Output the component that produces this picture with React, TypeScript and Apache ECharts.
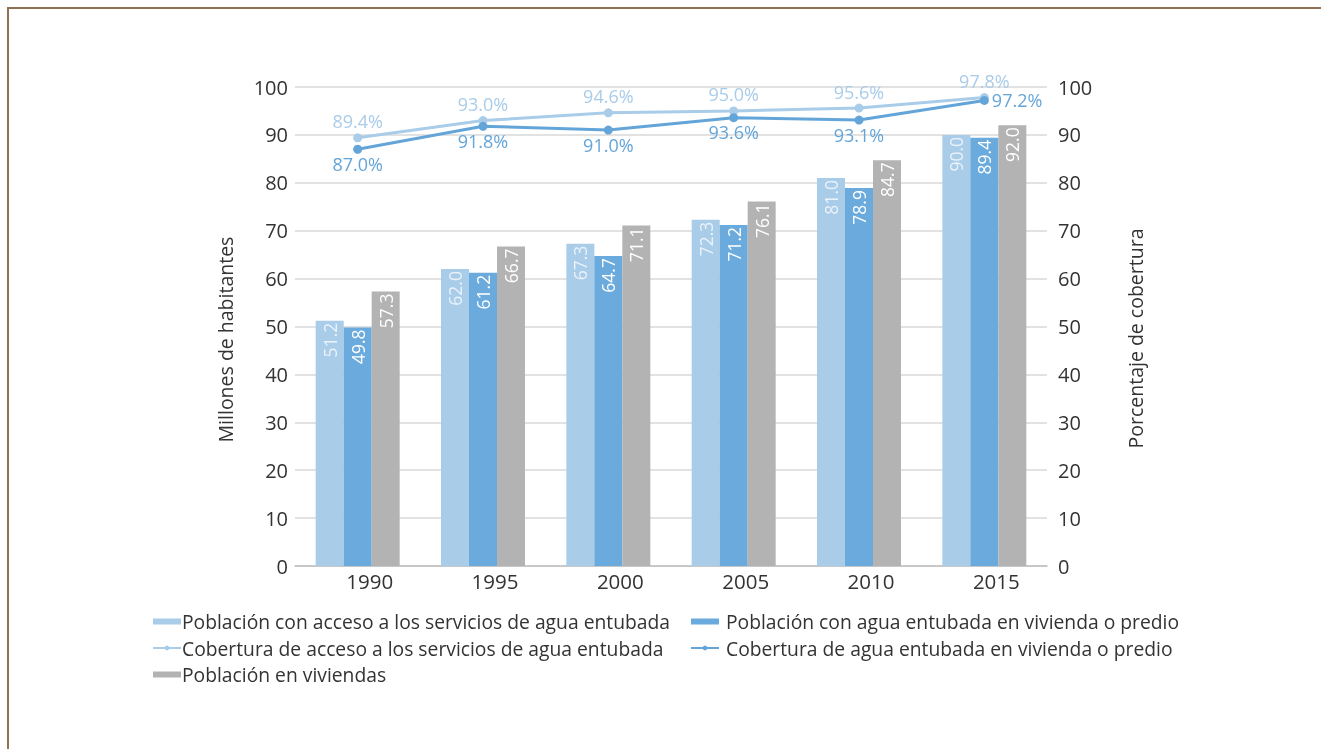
import React, { useEffect, useRef } from "react";
import * as echarts from "echarts";

const years = ["1990", "1995", "2000", "2005", "2010", "2015"];
const popAcceso = [51.2, 62.0, 67.3, 72.3, 81.0, 90.0];
const popVivienda = [49.8, 61.2, 64.7, 71.2, 78.9, 89.4];
const popViviendas = [57.3, 66.7, 71.1, 76.1, 84.7, 92.0];
const cobAcceso = [89.4, 93.0, 94.6, 95.0, 95.6, 97.8];
const cobVivienda = [87.0, 91.8, 91.0, 93.6, 93.1, 97.2];

const N1 = "Población con acceso a los servicios de agua entubada";
const N2 = "Población con agua entubada en vivienda o predio";
const N3 = "Cobertura de acceso a los servicios de agua entubada";
const N4 = "Cobertura de agua entubada en vivienda o predio";
const N5 = "Población en viviendas";

const C_LIGHT = "#a9cce9";
const C_BLUE = "#6aaadc";
const C_GRAY = "#b3b3b3";
const C_LINE_LIGHT = "#a9cce9";
const C_LINE_DARK = "#64a5d9";
const FONT = "Open Sans";
const TXT = "#333333";

export default function App() {
  const ref = useRef<HTMLDivElement>(null);
  useEffect(() => {
    if (!ref.current) return;
    const chart = echarts.init(ref.current, undefined, { renderer: "svg" });
    const barLabel = (color: string) => ({
      show: true,
      position: "insideTop",
      rotate: 90,
      align: "right",
      verticalAlign: "middle",
      distance: 2,
      color,
      fontFamily: FONT,
      fontSize: 17.5,
      formatter: (p: any) => p.value.toFixed(1),
    });
    const legendText = { fontFamily: FONT, fontSize: 19.3, color: TXT };
    chart.setOption({
      animation: false,
      textStyle: { fontFamily: FONT },
      grid: { left: 295, right: 274, top: 87, bottom: 183, containLabel: false },
      legend: [
        {
          orient: "vertical",
          left: 147,
          top: 607,
          itemGap: 7.5,
          itemWidth: 28,
          itemHeight: 6,
          data: [{ name: N1, icon: "rect" }, N3, { name: N5, icon: "rect" }],
          textStyle: { ...legendText, padding: [0, 0, 0, -4] },
        },
        {
          orient: "vertical",
          left: 685,
          top: 607,
          itemGap: 7.5,
          itemWidth: 28,
          itemHeight: 6,
          data: [{ name: N2, icon: "rect" }, N4],
          textStyle: { ...legendText, padding: [0, 0, 0, 2] },
        },
      ],
      xAxis: {
        type: "category",
        data: years,
        axisLine: { lineStyle: { color: "#bfbfbf", width: 1.5 } },
        axisTick: { show: false },
        axisLabel: { color: TXT, fontSize: 20.5, fontFamily: FONT, margin: 4, padding: [0, 0, 0, 24] },
      },
      yAxis: [
        {
          type: "value",
          min: 0,
          max: 100,
          interval: 10,
          name: "Millones de habitantes",
          nameLocation: "middle",
          nameGap: 60,
          nameTextStyle: { color: TXT, fontSize: 19.5, fontFamily: FONT, padding: [0, 26, 0, 0] },
          axisLine: { show: false },
          axisTick: { show: false },
          axisLabel: { color: TXT, fontSize: 20, fontFamily: FONT, margin: 7 },
          splitLine: { lineStyle: { color: "#d9d9d9", width: 1.5 } },
        },
        {
          type: "value",
          min: 0,
          max: 100,
          interval: 10,
          name: "Porcentaje de cobertura",
          nameLocation: "middle",
          nameGap: 78,
          nameRotate: 90,
          nameTextStyle: { color: TXT, fontSize: 19.5, fontFamily: FONT, padding: [0, 24, 0, 0] },
          axisLine: { show: false },
          axisTick: { show: false },
          axisLabel: { color: TXT, fontSize: 20, fontFamily: FONT, margin: 11 },
          splitLine: { show: false },
        },
      ],
      series: [
        {
          name: N1,
          type: "bar",
          data: popAcceso,
          barWidth: 28,
          barGap: "0%",
          itemStyle: { color: C_LIGHT },
          label: barLabel("#eaf2fa"),
        },
        {
          name: N2,
          type: "bar",
          data: popVivienda,
          barWidth: 28,
          barGap: "0%",
          itemStyle: { color: C_BLUE },
          label: barLabel("#ffffff"),
        },
        {
          name: N5,
          type: "bar",
          data: popViviendas,
          barWidth: 28,
          barGap: "0%",
          itemStyle: { color: C_GRAY },
          label: barLabel("#ffffff"),
        },
        {
          name: N3,
          type: "line",
          yAxisIndex: 1,
          data: cobAcceso,
          symbol: "circle",
          symbolSize: 9,
          lineStyle: { color: C_LINE_LIGHT, width: 3 },
          itemStyle: { color: C_LINE_LIGHT },
          label: {
            show: true,
            position: "top",
            distance: 3,
            color: C_LINE_LIGHT,
            fontSize: 18,
            fontFamily: FONT,
            formatter: (p: any) => p.value.toFixed(1) + "%",
          },
          z: 5,
        },
        {
          name: N4,
          type: "line",
          yAxisIndex: 1,
          data: cobVivienda.map((v, i) =>
            i === cobVivienda.length - 1
              ? { value: v, label: { position: "right", distance: 3 } }
              : v
          ),
          symbol: "circle",
          symbolSize: 9,
          lineStyle: { color: C_LINE_DARK, width: 3 },
          itemStyle: { color: C_LINE_DARK },
          label: {
            show: true,
            position: "bottom",
            distance: 1,
            color: C_LINE_DARK,
            fontSize: 18,
            fontFamily: FONT,
            formatter: (p: any) => Number(p.value).toFixed(1) + "%",
          },
          z: 6,
        },
      ],
    });
    return () => chart.dispose();
  }, []);
  return (
    <>
      <div
        style={{
          position: "fixed",
          left: 7,
          top: 7,
          width: 1400,
          height: 800,
          borderTop: "2px solid #8f7152",
          borderLeft: "2px solid #8f7152",
          boxSizing: "border-box",
        }}
      />
      <div
        ref={ref}
        style={{ position: "fixed", left: 0, top: 0, width: 1321, height: 749 }}
      />
    </>
  );
}
